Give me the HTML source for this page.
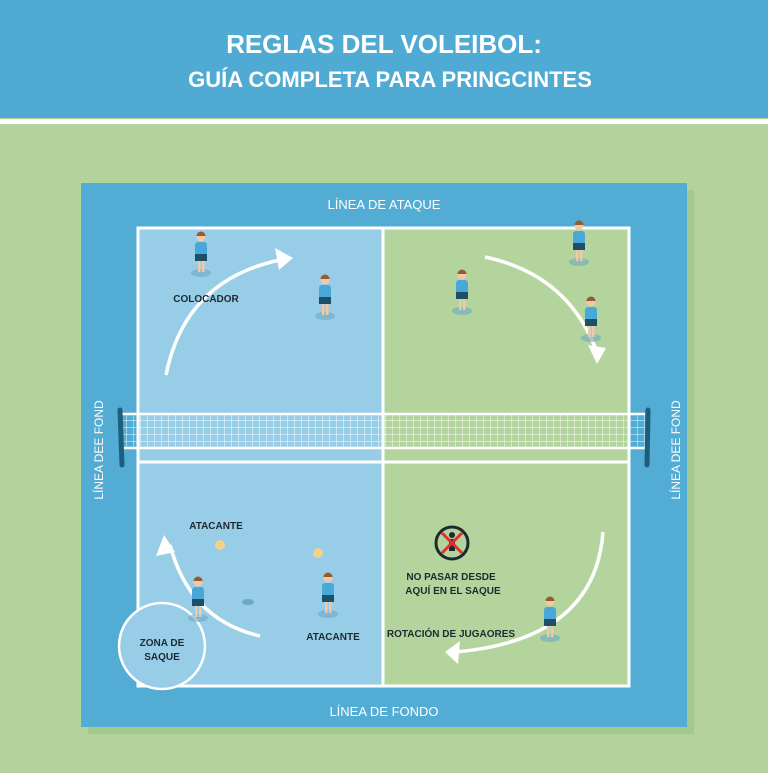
<!DOCTYPE html>
<html><head><style>
html,body{margin:0;padding:0}
body{width:768px;height:768px;overflow:hidden;background:#b3d29c;font-family:"Liberation Sans",sans-serif}
</style></head><body>
<svg width="768" height="768" viewBox="0 0 768 768" xmlns="http://www.w3.org/2000/svg" font-family="Liberation Sans, sans-serif">
<defs>
<g id="p">
<ellipse cx="0" cy="26" rx="10" ry="4" fill="#6aa9c7" opacity="0.6"/>
<rect x="-3" y="12" width="2.5" height="13" fill="#f0c9a8"/><rect x="1" y="12" width="2.5" height="13" fill="#f0c9a8"/>
<rect x="-6" y="-5" width="12" height="14" rx="3" fill="#4aa8d8"/>
<rect x="-6" y="7" width="12" height="7" fill="#1d4f66"/>
<circle cx="0" cy="-10" r="4.5" fill="#f0c9a8"/>
<path d="M-4.5 -11 a4.5 4.5 0 0 1 9 0z" fill="#9a5a30"/>
</g>
<pattern id="net" width="7" height="7" patternUnits="userSpaceOnUse"><path d="M0 0H7M0 0V7" stroke="#fff" stroke-width="1"/></pattern>
</defs>
<rect x="0" y="0" width="768" height="118" fill="#4fabd4"/>
<rect x="0" y="119" width="768" height="5" fill="#fff"/>
<text x="384" y="53" text-anchor="middle" fill="#fff" font-size="26" font-weight="bold">REGLAS DEL VOLEIBOL:</text>
<text x="390" y="87" text-anchor="middle" fill="#fff" font-size="22" font-weight="bold">GUÍA COMPLETA PARA PRINGCINTES</text>
<rect x="88" y="190" width="606" height="544" fill="#a3c98c"/>
<rect x="81" y="183" width="606" height="544" fill="#52acd4"/>
<rect x="138" y="228" width="245" height="182" fill="#98cde8"/>
<rect x="383" y="228" width="246" height="182" fill="#b4d49e"/>
<rect x="138" y="462" width="245" height="224" fill="#98cde8"/>
<rect x="383" y="462" width="246" height="224" fill="#b4d49e"/>
<rect x="138" y="410" width="245" height="52" fill="#98cde8"/>
<rect x="383" y="410" width="246" height="52" fill="#b4d49e"/>
<g fill="none" stroke="#fff" stroke-width="3">
<rect x="138" y="228" width="491" height="458"/>
<line x1="383" y1="228" x2="383" y2="686"/>
<line x1="138" y1="462" x2="629" y2="462"/>
</g>
<rect x="122" y="414" width="523" height="34" fill="url(#net)" opacity="0.9"/>
<line x1="122" y1="414" x2="645" y2="414" stroke="#fff" stroke-width="2.5"/>
<line x1="122" y1="448" x2="645" y2="448" stroke="#fff" stroke-width="2.5"/>
<line x1="120" y1="410" x2="122" y2="465" stroke="#1d5f7a" stroke-width="5" stroke-linecap="round"/>
<line x1="648" y1="410" x2="647" y2="465" stroke="#1d5f7a" stroke-width="5" stroke-linecap="round"/>
<text x="384" y="209" text-anchor="middle" fill="#fff" font-size="13">LÍNEA DE ATAQUE</text>
<text x="384" y="716" text-anchor="middle" fill="#fff" font-size="13">LÍNEA DE FONDO</text>
<text transform="translate(103,450) rotate(-90)" text-anchor="middle" fill="#fff" font-size="12">LÍNEA DEE FOND</text>
<text transform="translate(680,450) rotate(-90)" text-anchor="middle" fill="#fff" font-size="12">LÍNEA DEE FOND</text>
<g fill="none" stroke="#fff" stroke-width="3.5">
<path d="M166 375 Q185 280 280 260"/>
<path d="M485 257 Q570 275 598 355"/>
<path d="M603 532 Q595 640 455 652"/>
<path d="M260 636 Q190 620 170 545"/>
</g>
<g fill="#fff">
<path d="M293 258 L275 248 L279 270Z"/>
<path d="M597 364 L588 345 L606 348Z"/>
<path d="M445 652 L460 641 L458 664Z"/>
<path d="M164 535 L156 556 L175 552Z"/>
</g>
<circle cx="162" cy="646" r="43" fill="#98cde8" stroke="#fff" stroke-width="2.5"/>
<g font-size="10" font-weight="bold" fill="#1d2a30" text-anchor="middle">
<text x="162" y="646">ZONA DE</text><text x="162" y="660">SAQUE</text>
<text x="206" y="302">COLOCADOR</text>
<text x="216" y="529">ATACANTE</text>
<text x="333" y="640">ATACANTE</text>
<text x="451" y="580">NO PASAR DESDE</text>
<text x="453" y="594">AQUÍ EN EL SAQUE</text>
<text x="451" y="637">ROTACIÓN DE JUGAORES</text>
</g>
<circle cx="452" cy="543" r="16" fill="none" stroke="#1d2a30" stroke-width="3"/>
<circle cx="452" cy="535" r="3" fill="#1d2a30"/><rect x="449" y="539" width="6" height="12" fill="#1d2a30"/>
<path d="M442 533 L462 553 M462 533 L442 553" stroke="#e23030" stroke-width="3"/>
<use href="#p" x="201" y="247"/>
<use href="#p" x="325" y="290"/>
<use href="#p" x="579" y="236"/>
<use href="#p" x="462" y="285"/>
<use href="#p" x="591" y="312"/>
<use href="#p" x="550" y="612"/>
<use href="#p" x="328" y="588"/>
<use href="#p" x="198" y="592"/>
<circle cx="220" cy="545" r="5" fill="#f2d28a"/>
<circle cx="318" cy="553" r="5" fill="#f2d28a"/>
<ellipse cx="248" cy="602" rx="6" ry="3" fill="#6aa9c7"/>
</svg>
</body></html>
